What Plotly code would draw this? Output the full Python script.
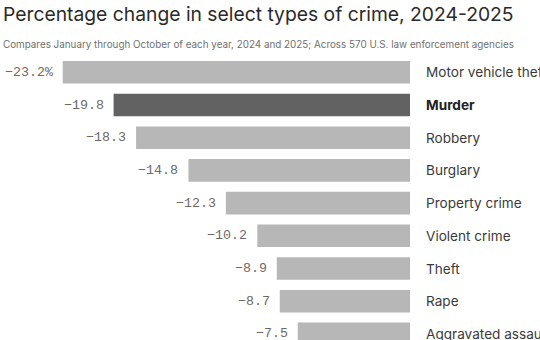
import plotly.graph_objects as go

categories = ["Motor vehicle theft", "Murder", "Robbery", "Burglary", "Property crime",
              "Violent crime", "Theft", "Rape", "Aggravated assault"]
values = [-23.2, -19.8, -18.3, -14.8, -12.3, -10.2, -8.9, -8.7, -7.5]
value_labels = ["−23.2%", "−19.8", "−18.3", "−14.8", "−12.3", "−10.2", "−8.9", "−8.7", "−7.5"]
highlight = "Murder"

title = "Percentage change in select types of crime, 2024-2025"
subtitle = "Compares January through October of each year, 2024 and 2025; Across 570 U.S. law enforcement agencies"

W, H = 540, 340
LIGHT, DARK = "#b7b7b7", "#626262"

idx = list(range(len(categories)))
colors = [DARK if c == highlight else LIGHT for c in categories]

fig = go.Figure(go.Bar(
    x=values, y=idx, orientation="h", width=0.69,
    marker=dict(color=colors, line=dict(width=0)),
    hoverinfo="skip",
))

anns = []
for i, (c, v, t) in enumerate(zip(categories, values, value_labels)):
    anns.append(dict(x=v, y=i, xref="x", yref="y", text=t, showarrow=False,
                     xanchor="right", yanchor="middle", xshift=-8,
                     font=dict(family="Liberation Mono", size=13.3, color="#6a6a6a")))
    lab = f"<b>{c}</b>" if c == highlight else c
    anns.append(dict(x=0, y=i, xref="x", yref="y", text=lab, showarrow=False,
                     xanchor="left", yanchor="middle", xshift=14,
                     font=dict(family="Inter", size=13.6,
                               color="#222222" if c == highlight else "#3a3a3a")))

anns.append(dict(x=0, y=1 - 14.5 / H, xref="paper", yref="paper", text=title, showarrow=False,
                 xanchor="left", yanchor="middle", xshift=1,
                 font=dict(family="Inter", size=19.3, color="#2a2a2a")))
anns.append(dict(x=0, y=1 - 43.5 / H, xref="paper", yref="paper", text=subtitle, showarrow=False,
                 xanchor="left", yanchor="middle", xshift=1,
                 font=dict(family="Inter", size=9.85, color="#707070")))

scale = 14.97
zero_px = 410
row0, step = 72.3, 32.7

fig.update_layout(
    width=W, height=H, margin=dict(l=0, r=0, t=0, b=0),
    paper_bgcolor="white", plot_bgcolor="white",
    showlegend=False, annotations=anns,
    xaxis=dict(range=[-zero_px / scale, (W - zero_px) / scale], visible=False, fixedrange=True),
    yaxis=dict(range=[(H - row0) / step, -row0 / step], visible=False, fixedrange=True),
)

fig.write_html("out.html")
